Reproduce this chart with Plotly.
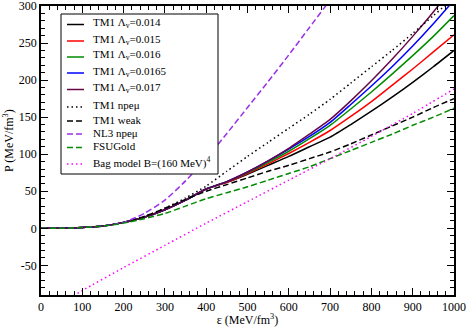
import plotly.graph_objects as go

# energy density grid (MeV/fm^3)
eps = [0, 50, 100, 150, 200, 250, 300, 350, 400, 450, 500,
       550, 600, 650, 700, 750, 800, 850, 900, 950, 1000]

# pressure (MeV/fm^3)
tm1_014 = [0, 0, 1, 3, 8, 15, 25, 38, 53, 62, 73, 85, 97, 110, 123, 140, 158, 177, 197, 218, 240]
tm1_015 = [0, 0, 1, 3, 8, 15, 25, 38, 53, 62, 74, 87, 101, 116, 132, 151, 171, 193, 215, 238, 261]
tm1_016 = [0, 0, 1, 3, 8, 15, 25, 38, 53, 63, 75, 89, 104, 121, 139, 161, 184, 208, 233, 259, 287]
tm1_0165 = [0, 0, 1, 3, 8, 15, 25, 38, 53, 63, 76, 91, 107, 124, 143, 167, 192, 218, 246, 276, 308]
tm1_017 = [0, 0, 1, 3, 8, 15, 25, 38, 53, 63, 76, 91, 108, 127, 147, 172, 199, 228, 259, 292, 327]
tm1_npemu = [0, 0, 1, 3, 8, 16, 27, 41, 57, 77, 97, 116, 135, 154, 174, 196, 218, 240, 263, 287, 311]
tm1_weak = [0, 0, 1, 3, 8, 16, 27, 39, 50, 59, 68, 77, 85, 94, 103, 114, 126, 138, 150, 163, 175]
nl3_npemu = [0, 0, 1, 3, 8, 20, 38, 64, 94, 128, 163, 198, 234, 271, 308]
fsugold = [0, 0, 1, 3, 7, 13, 20, 30, 40, 48, 56, 65, 74, 83, 94, 105, 116, 127, 139, 150, 162]

eps_bag = [60, 100, 200, 300, 400, 500, 600, 700, 800, 900, 1000]
bag = [-97, -84, -53, -23, 7, 36, 65, 94, 124, 155, 188]

font = "Liberation Serif"
W, H = 467, 327
L, R, T, B = 41, 13, 6, 32
pw, ph = W - L - R, H - T - B

# pixel -> paper coordinates
def X(px):
    return (px - L) / pw

def Y(py):
    return (H - B - py) / ph

fig = go.Figure()
shapes = []
annots = []

# legend box
shapes.append(dict(type="rect", xref="paper", yref="paper", x0=X(61), x1=X(218), y0=Y(174), y1=Y(14),
                   line=dict(color="black", width=1), fillcolor="white", layer="above"))

rows = [24.5, 41, 57, 73, 89.5, 107, 121, 134, 147.5, 164]
k = 0

def add(x, y, name, color, dash="solid"):
    global k
    fig.add_trace(go.Scatter(x=x, y=y, name=name, mode="lines", showlegend=False,
                             line=dict(color=color, width=1.5, dash=dash, shape="spline", smoothing=0.6)))
    ry = rows[k]
    shapes.append(dict(type="line", xref="paper", yref="paper", x0=X(67), x1=X(84), y0=Y(ry), y1=Y(ry),
                       line=dict(color=color, width=1.5, dash=dash), layer="above"))
    annots.append(dict(xref="paper", yref="paper", x=X(91), y=Y(ry - 1.5), text=name, showarrow=False,
                       xanchor="left", yanchor="middle", font=dict(family=font, size=11, color="black")))
    k += 1

add(eps, tm1_014, "TM1 \u039b<sub>v</sub>=0.014", "black")
add(eps, tm1_015, "TM1 \u039b<sub>v</sub>=0.015", "#ff0000")
add(eps, tm1_016, "TM1 \u039b<sub>v</sub>=0.016", "#008b00")
add(eps, tm1_0165, "TM1 \u039b<sub>v</sub>=0.0165", "#0000ff")
add(eps, tm1_017, "TM1 \u039b<sub>v</sub>=0.017", "#670748")
add(eps, tm1_npemu, "TM1 npe\u03bc", "black", "1.5px,3px")
add(eps, tm1_weak, "TM1 weak", "black", "6px,3px")
add(eps[:len(nl3_npemu)], nl3_npemu, "NL3 npe\u03bc", "#9a30e8", "6px,3px")
add(eps, fsugold, "FSUGold", "#008b00", "6px,3px")
add(eps_bag, bag, "Bag model B=(160 MeV)<sup>4</sup>", "#ff00ff", "1.5px,3px")

# y axis title
annots.append(dict(xref="paper", yref="paper", x=X(8), y=Y(141), text="P (MeV/fm<sup>3</sup>)",
                   textangle=-90, showarrow=False, xanchor="center", yanchor="middle",
                   font=dict(family=font, size=12, color="black")))

axis_common = dict(showline=True, linecolor="black", linewidth=1.5, mirror="ticks",
                   ticks="inside", ticklen=7, tickwidth=1, tickcolor="black",
                   showgrid=False, zeroline=False, automargin=False, ticklabeloverflow="allow",
                   tickfont=dict(family=font, size=12, color="black"))

fig.update_xaxes(range=[0, 1000], tickvals=list(range(0, 1001, 100)),
                 minor=dict(dtick=20, ticks="inside", ticklen=4, tickcolor="black"),
                 title=dict(text="\u03b5 (MeV/fm<sup>3</sup>)", font=dict(family=font, size=12, color="black"), standoff=4),
                 **axis_common)

yticks = [-50, 0, 50, 100, 150, 200, 250, 300]
fig.update_yaxes(range=[-90, 300], tickvals=yticks, ticktext=[str(v) for v in yticks],
                 minor=dict(dtick=10, ticks="inside", ticklen=4, tickcolor="black"),
                 **axis_common)

fig.update_layout(width=W, height=H,
                  margin=dict(l=L, r=R, t=T, b=B),
                  plot_bgcolor="white", paper_bgcolor="white",
                  showlegend=False, shapes=shapes, annotations=annots)

fig.write_html("out.html", config={"displayModeBar": False},
               post_script="document.body.style.margin='0px';")
